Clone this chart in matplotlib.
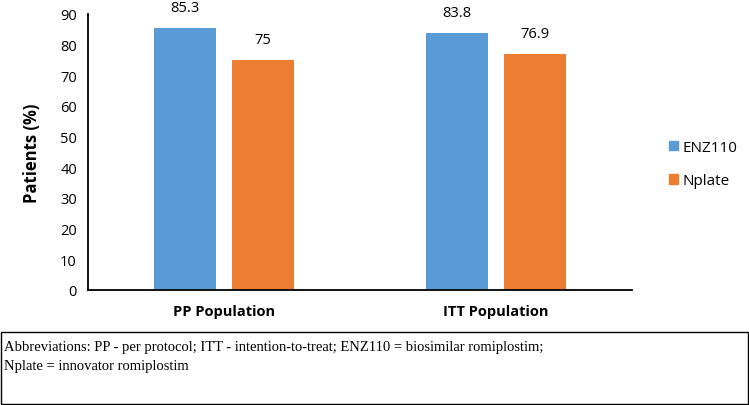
import matplotlib.pyplot as plt
import numpy as np
from matplotlib.patches import Patch, Rectangle

# datos
poblaciones = ['PP Population', 'ITT Population']
series = ['ENZ110', 'Nplate']
enz110 = [85.3, 83.8]
nplate = [75, 76.9]
colores = ['#5B9BD5', '#ED7D31']
nota = ('Abbreviations: PP - per protocol; ITT - intention-to-treat; ENZ110 = biosimilar romiplostim;\n'
        'Nplate = innovator romiplostim')

plt.rcParams['font.family'] = ['Open Sans', 'DejaVu Sans']

fig = plt.figure(figsize=(7.49, 4.06), dpi=100)
ax = fig.add_axes([88/749, 1-291/406, (632-88)/749, (291-15)/406])

x = np.arange(len(poblaciones))
ancho = 0.228
desp = 0.143
for valores, nombre, color, d in zip([enz110, nplate], series, colores, [-desp, desp]):
    barras = ax.bar(x + d, valores, ancho, color=color, label=nombre)
    for b, v in zip(barras, valores):
        ax.annotate(f'{v:g}', (b.get_x() + b.get_width()/2, v), xytext=(0, 9.5),
                    textcoords='offset points', ha='center', va='bottom', fontsize=10.5)

ax.set_xlim(-0.5, 1.5)
ax.set_ylim(0, 90)
ax.set_yticks(range(0, 91, 10))
ax.set_xticks(x)
ax.set_xticklabels(poblaciones, fontweight='bold', fontsize=10.5)
ax.tick_params(axis='both', length=0, labelsize=10.5)
ax.tick_params(axis='x', pad=10)
ax.tick_params(axis='y', pad=8)
ax.set_ylabel('Patients (%)', fontweight='bold', fontsize=12, labelpad=14)
for s in ['top', 'right']:
    ax.spines[s].set_visible(False)
for s in ['left', 'bottom']:
    ax.spines[s].set_linewidth(1.3)

manijas = [Patch(color=c, label=n) for c, n in zip(colores, series)]
fig.legend(handles=manijas, loc='center left', bbox_to_anchor=(655/749, 1-165/406),
           frameon=False, fontsize=11, handlelength=0.6, handleheight=0.6,
           handletextpad=0.3, labelspacing=1.2)

# recuadro de abreviaturas
fig.patches.append(Rectangle((0.5/749, 1/406), 747/749, (405-333)/406, transform=fig.transFigure,
                             fill=False, edgecolor='black', linewidth=1))
fig.text(4/749, 1-341/406, nota, family='Liberation Serif', fontsize=10.5, va='top',
         linespacing=1.6)

fig.savefig('out.png', dpi=100)
